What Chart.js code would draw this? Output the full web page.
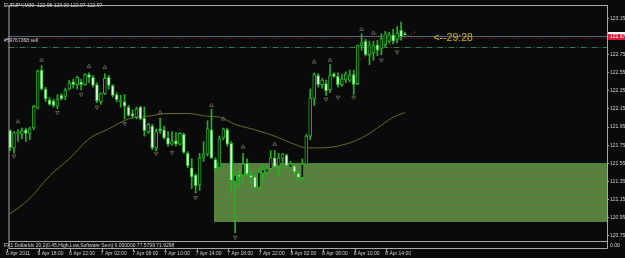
<!DOCTYPE html>
<html>
<head>
<meta charset="utf-8">
<script src="https://cdn.jsdelivr.net/npm/chart.js@4.4.0/dist/chart.umd.min.js"></script>
<style>
html, body { margin: 0; padding: 0; background: #0a0a0a; overflow: hidden; }
canvas { display: block; }
</style>
</head>
<body>
<canvas id="chart" width="625" height="258"></canvas>
<script>
// EURJPY M30
var symbolTitle = 'EURJPY,M30  122.98 123.00 122.97 122.97';
var timeLabels = ['6 Apr 2011', '6 Apr 18:00', '6 Apr 22:00', '7 Apr 02:00', '7 Apr 06:00', '7 Apr 10:00',
    '7 Apr 14:00', '7 Apr 18:00', '7 Apr 22:00', '8 Apr 02:00', '8 Apr 06:00', '8 Apr 10:00', '8 Apr 14:00'];
var timeTickIdx = [0, 8, 16, 24, 32, 40, 48, 56, 64, 72, 80, 88, 96];
var priceTicks = [123.15, 122.95, 122.75, 122.55, 122.35, 122.15, 121.95, 121.75, 121.55, 121.35, 121.15, 120.95, 120.75];

var candleOpen = [
    121.91, 121.72, 121.88, 121.87, 121.92, 121.88, 121.94, 122.16, 122.58, 122.37,
    122.25, 122.24, 122.18, 122.30, 122.29, 122.37, 122.45, 122.42, 122.45, 122.42,
    122.53, 122.50, 122.42, 122.23, 122.32, 122.50, 122.41, 122.31, 122.23, 122.23,
    122.17, 122.10, 122.06, 122.17, 122.05, 121.90, 121.96, 121.72, 121.93, 121.92,
    121.83, 121.76, 121.80, 121.76, 121.87, 121.66, 121.50, 121.42, 121.31, 121.61,
    121.65, 121.92, 121.59, 121.50, 121.83, 121.92, 121.77, 121.35, 121.42, 121.42,
    121.55, 121.42, 121.40, 121.28, 121.44, 121.45, 121.49, 121.61, 121.52, 121.60,
    121.64, 121.50, 121.52, 121.44, 121.39, 121.54, 121.85, 122.26, 122.52, 122.42,
    122.43, 122.36, 122.54, 122.51, 122.42, 122.47, 122.47, 122.53, 122.43, 122.85,
    122.90, 122.75, 122.77, 122.86, 122.82, 122.86, 122.90, 122.97, 122.92, 123.02,
    122.98];
var candleHigh = [
    121.92, 121.90, 121.92, 121.94, 121.94, 121.95, 122.19, 122.58, 122.63, 122.39,
    122.28, 122.26, 122.31, 122.32, 122.38, 122.47, 122.48, 122.51, 122.48, 122.54,
    122.55, 122.52, 122.44, 122.33, 122.54, 122.52, 122.42, 122.33, 122.30, 122.31,
    122.19, 122.14, 122.17, 122.18, 122.17, 121.99, 121.98, 121.93, 122.05, 121.96,
    121.90, 121.90, 121.89, 121.89, 121.88, 121.68, 121.60, 121.43, 121.66, 121.79,
    122.02, 122.15, 121.61, 121.85, 121.94, 121.94, 121.79, 121.43, 121.48, 121.66,
    121.60, 121.47, 121.43, 121.49, 121.52, 121.52, 121.69, 121.69, 121.66, 121.66,
    121.65, 121.57, 121.55, 121.47, 121.60, 121.87, 122.37, 122.55, 122.54, 122.49,
    122.47, 122.64, 122.55, 122.55, 122.53, 122.56, 122.58, 122.58, 122.86, 122.98,
    122.92, 122.90, 122.90, 122.91, 122.98, 123.01, 123.00, 123.03, 123.06, 123.11,
    123.00];
var candleLow = [
    121.69, 121.66, 121.79, 121.82, 121.79, 121.81, 121.92, 122.15, 122.36, 122.23,
    122.19, 122.17, 122.15, 122.25, 122.25, 122.36, 122.38, 122.37, 122.36, 122.41,
    122.44, 122.39, 122.22, 122.20, 122.31, 122.37, 122.28, 122.23, 122.17, 122.04,
    122.07, 122.05, 122.04, 122.03, 121.85, 121.88, 121.70, 121.69, 121.88, 121.82,
    121.74, 121.75, 121.74, 121.75, 121.66, 121.50, 121.27, 121.22, 121.25, 121.57,
    121.63, 121.60, 121.47, 121.49, 121.81, 121.74, 121.23, 120.78, 121.28, 121.33,
    121.41, 121.32, 121.27, 121.26, 121.36, 121.43, 121.48, 121.50, 121.41, 121.55,
    121.50, 121.48, 121.43, 121.36, 121.36, 121.53, 121.81, 122.19, 122.39, 122.38,
    122.30, 122.33, 122.50, 122.39, 122.40, 122.44, 122.45, 122.31, 122.42, 122.80,
    122.74, 122.64, 122.69, 122.74, 122.75, 122.84, 122.88, 122.87, 122.88, 122.91,
    122.97];
var candleClose = [
    121.72, 121.89, 121.89, 121.91, 121.88, 121.93, 122.18, 122.57, 122.37, 122.26,
    122.20, 122.19, 122.26, 122.26, 122.36, 122.44, 122.42, 122.50, 122.42, 122.53,
    122.50, 122.41, 122.24, 122.32, 122.49, 122.41, 122.30, 122.25, 122.25, 122.18,
    122.08, 122.07, 122.15, 122.04, 121.91, 121.98, 121.72, 121.90, 121.91, 121.83,
    121.76, 121.79, 121.76, 121.88, 121.67, 121.52, 121.40, 121.30, 121.61, 121.65,
    121.93, 121.61, 121.49, 121.82, 121.93, 121.76, 121.36, 121.42, 121.40, 121.54,
    121.43, 121.39, 121.28, 121.45, 121.48, 121.49, 121.61, 121.51, 121.61, 121.65,
    121.52, 121.54, 121.45, 121.39, 121.54, 121.85, 122.27, 122.53, 122.42, 122.47,
    122.35, 122.52, 122.51, 122.42, 122.48, 122.54, 122.52, 122.42, 122.85, 122.88,
    122.75, 122.86, 122.85, 122.80, 122.93, 122.98, 122.97, 122.90, 122.99, 122.95,
    122.97];

// moving average, read at a few bars
var maIdx = [0, 5, 10, 15, 20, 25, 30, 35, 40, 45, 50, 53, 57, 62, 67, 72, 75, 79, 84, 89, 94, 97, 100];
var maVal = [120.99, 121.16, 121.41, 121.60, 121.82, 121.93, 122.04, 122.07, 122.10, 122.10, 122.07, 122.06,
    121.98, 121.92, 121.85, 121.76, 121.72, 121.72, 121.75, 121.83, 121.97, 122.06, 122.11];

// fractal arrows
var fractalUpIdx = [2, 8, 20, 24, 38, 51, 54, 59, 67, 77, 81, 89, 92];
var fractalUpVal = [122.01, 122.69, 122.62, 122.61, 122.11, 122.19, 122.04, 121.73, 121.76, 122.67, 122.69, 123.03, 122.99];
var fractalDownIdx = [1, 12, 18, 22, 29, 37, 41, 47, 57, 80, 83, 87, 91, 94, 98];
var fractalDownVal = [121.63, 122.11, 122.31, 122.17, 121.99, 121.66, 121.67, 121.17, 120.73, 122.26, 122.28, 122.28, 122.76, 122.69, 122.78];

// red trend line
var trendIdx = [88.75, 103];
var trendVal = [122.70, 123.01];

// rectangle zone
var zoneFrom = 51.6;
var zoneTop = 121.55;
var zoneBottom = 120.90;

// horizontal levels
var bidLevel = 122.96;
var stopLevel = 122.93;
var orderLevel = 122.84;
var lastPrice = 122.97;

var timerText = '<--29:28';
var timerIdx = 107.2;
var timerPrice = 122.93;
var orderText = '#59767368 sell';
var oscText = 'FX1 DollarIdx 20,2(0.45,High,Low,Software Sem) 0.000000 77.5799 71.9298';

var green = '#22b322';
var bearFill = '#e2ffe2';
var bg = '#0a0a0a';
var fontName = "'Liberation Sans', Arial, sans-serif";

Chart.defaults.font.family = fontName;

function zonePattern(ctx) {
    var c = document.createElement('canvas');
    c.width = 4;
    c.height = 4;
    var g = c.getContext('2d');
    var cols = [
        ['#8c6c2a', '#3a8c3e', '#5f8a44', '#3e8448'],
        ['#3a8c3e', '#7a6e32', '#3e8448', '#8c6c2a'],
        ['#5f8a44', '#3e8448', '#8c6c2a', '#3a8c3e'],
        ['#3e8448', '#8c6c2a', '#3a8c3e', '#6e7a3a']
    ];
    for (var r = 0; r < 4; r++) {
        for (var k = 0; k < 4; k++) {
            g.fillStyle = cols[r][k];
            g.fillRect(k, r, 1, 1);
        }
    }
    return ctx.createPattern(c, 'repeat');
}

function hLine(ctx, area, y, color, dash) {
    ctx.save();
    ctx.strokeStyle = color;
    ctx.lineWidth = 1;
    ctx.setLineDash(dash);
    ctx.beginPath();
    ctx.moveTo(area.left, Math.round(y) + 0.5);
    ctx.lineTo(area.right, Math.round(y) + 0.5);
    ctx.stroke();
    ctx.restore();
}

var mtPlugin = {
    id: 'mt4',
    beforeDraw: function(chart) {
        var ctx = chart.ctx;
        ctx.save();
        ctx.fillStyle = bg;
        ctx.fillRect(0, 0, chart.width, chart.height);
        ctx.restore();
    },
    beforeDatasetsDraw: function(chart) {
        var ctx = chart.ctx;
        var area = chart.chartArea;
        var xs = chart.scales.x;
        var ys = chart.scales.y;

        // textured rectangle
        var x0 = Math.round(xs.getPixelForValue(zoneFrom));
        var y0 = Math.round(ys.getPixelForValue(zoneTop));
        var y1 = Math.round(ys.getPixelForValue(zoneBottom));
        ctx.save();
        ctx.fillStyle = zonePattern(ctx);
        ctx.fillRect(x0, y0, area.right - x0, y1 - y0);
        ctx.restore();

        hLine(ctx, area, ys.getPixelForValue(bidLevel), '#4f6a80', []);
        hLine(ctx, area, ys.getPixelForValue(stopLevel), '#a01818', [1, 2]);
        hLine(ctx, area, ys.getPixelForValue(orderLevel), '#2f7c4f', [6, 2, 1, 2]);
    },
    afterDraw: function(chart) {
        var ctx = chart.ctx;
        var area = chart.chartArea;
        var xs = chart.scales.x;
        var ys = chart.scales.y;
        ctx.save();

        // frame of main window and sub window
        ctx.strokeStyle = '#a8a8a8';
        ctx.lineWidth = 1;
        ctx.beginPath();
        ctx.moveTo(area.left + 0.5, area.bottom + 7.5);
        ctx.lineTo(area.left + 0.5, area.top + 0.5);
        ctx.lineTo(area.right + 0.5, area.top + 0.5);
        ctx.moveTo(area.left, area.bottom + 0.5);
        ctx.lineTo(area.right, area.bottom + 0.5);
        ctx.moveTo(area.left, area.bottom + 7.5);
        ctx.lineTo(area.right + 0.5, area.bottom + 7.5);
        ctx.lineTo(area.right + 0.5, area.bottom);
        ctx.stroke();

        // time tick marks
        ctx.beginPath();
        timeTickIdx.forEach(function(v) {
            var x = Math.round(xs.getPixelForValue(v)) - 2.5;
            ctx.moveTo(x, area.bottom + 8);
            ctx.lineTo(x, area.bottom + 11);
        });
        ctx.stroke();

        // texts
        ctx.fillStyle = '#d8d8d8';
        ctx.font = '5px ' + fontName;
        ctx.textBaseline = 'middle';
        ctx.textAlign = 'left';
        ctx.fillText(symbolTitle, 4, 5.5);
        ctx.fillText(orderText, 4, 40.5);
        ctx.fillText(oscText, 4, area.bottom + 4.5);
        ctx.fillText('0.00', area.right + 3, area.bottom + 4.5);

        // price tag
        var py = ys.getPixelForValue(lastPrice);
        ctx.fillStyle = '#f0f0f0';
        ctx.fillRect(area.right + 1, Math.round(py) - 3, 18, 2);
        ctx.fillStyle = '#e0163c';
        ctx.fillRect(area.right + 1, Math.round(py) - 1, 18, 6);
        ctx.fillStyle = '#ffffff';
        ctx.fillText(lastPrice.toFixed(2), area.right + 3, Math.round(py) + 2);

        // candle timer
        ctx.fillStyle = '#c8b400';
        ctx.font = '10.5px ' + fontName;
        ctx.fillText(timerText, xs.getPixelForValue(timerIdx), ys.getPixelForValue(timerPrice));
        ctx.restore();
    }
};

var bodyData = candleOpen.map(function(o, i) { return { x: i, y: [o, candleClose[i]] }; });
var wickData = candleLow.map(function(l, i) { return { x: i, y: [l, candleHigh[i]] }; });
var maData = maIdx.map(function(v, i) { return { x: v, y: maVal[i] }; });
var upData = fractalUpIdx.map(function(v, i) { return { x: v, y: fractalUpVal[i] }; });
var downData = fractalDownIdx.map(function(v, i) { return { x: v, y: fractalDownVal[i] }; });
var trendData = trendIdx.map(function(v, i) { return { x: v, y: trendVal[i] }; });

var ctx = document.getElementById('chart').getContext('2d');
var chart = new Chart(ctx, {
    type: 'bar',
    data: {
        datasets: [{
            data: bodyData,
            order: 0,
            grouped: false,
            barThickness: 3,
            minBarLength: 1,
            borderWidth: 1,
            borderSkipped: false,
            borderColor: green,
            backgroundColor: function(c) {
                var i = c.dataIndex;
                return candleClose[i] < candleOpen[i] ? bearFill : bg;
            }
        }, {
            data: wickData,
            order: 1,
            grouped: false,
            barThickness: 1,
            backgroundColor: green
        }, {
            type: 'line',
            data: upData,
            order: 2,
            showLine: false,
            pointStyle: 'triangle',
            pointRadius: 2.2,
            pointBorderWidth: 1,
            pointBorderColor: '#5e5e4c',
            pointBackgroundColor: 'rgba(0,0,0,0)'
        }, {
            type: 'line',
            data: downData,
            order: 2,
            showLine: false,
            pointStyle: 'triangle',
            rotation: 180,
            pointRadius: 2.2,
            pointBorderWidth: 1,
            pointBorderColor: '#5e5e4c',
            pointBackgroundColor: 'rgba(0,0,0,0)'
        }, {
            type: 'line',
            data: trendData,
            order: 3,
            borderColor: '#9a1c1c',
            borderWidth: 1,
            borderDash: [2, 2],
            pointRadius: 0
        }, {
            type: 'line',
            data: maData,
            order: 4,
            borderColor: '#6b6b22',
            borderWidth: 1,
            pointRadius: 0,
            cubicInterpolationMode: 'monotone'
        }]
    },
    options: {
        responsive: false,
        animation: false,
        devicePixelRatio: 1,
        layout: { padding: { left: 1, top: 1, right: 0, bottom: 0 } },
        plugins: { legend: { display: false }, tooltip: { enabled: false } },
        scales: {
            x: {
                type: 'linear',
                min: -0.375,
                max: 151.125,
                offset: false,
                afterBuildTicks: function(s) {
                    s.ticks = timeTickIdx.map(function(v) { return { value: v }; });
                },
                afterFit: function(s) { s.height = 17; },
                grid: { display: false, drawTicks: false, tickLength: 0, offset: false },
                border: { display: false },
                ticks: {
                    autoSkip: false,
                    maxRotation: 0,
                    align: 'start',
                    labelOffset: -4,
                    padding: 10,
                    color: '#d0d0d0',
                    font: { size: 5 },
                    callback: function(v, i) { return timeLabels[i]; }
                }
            },
            y: {
                position: 'right',
                min: 120.69,
                max: 123.30,
                afterBuildTicks: function(s) {
                    s.ticks = priceTicks.map(function(v) { return { value: v }; });
                },
                afterFit: function(s) { s.width = 18; },
                grid: { drawOnChartArea: false, tickLength: 2, color: '#a0a0a0' },
                border: { display: true, color: '#a8a8a8' },
                ticks: {
                    autoSkip: false,
                    padding: 1,
                    color: '#d0d0d0',
                    font: { size: 5 },
                    callback: function(v) { return v.toFixed(2); }
                }
            }
        }
    },
    plugins: [mtPlugin]
});
</script>
</body>
</html>
